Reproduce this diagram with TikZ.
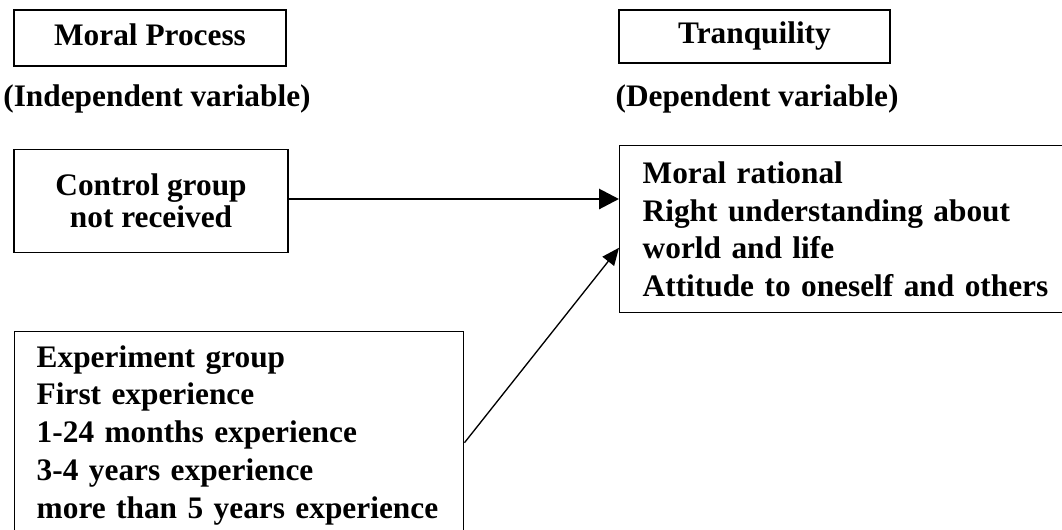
\documentclass[tikz,border=0pt]{standalone}
\usepackage{fontspec}
\setmainfont{Liberation Serif}
\usetikzlibrary{arrows.meta,positioning}

\begin{document}
\begin{tikzpicture}[x=0.75pt, y=-0.75pt, font=\bfseries\fontsize{23.5}{28.3}\selectfont,
  box node/.style={draw, line width=1.1pt, inner sep=0pt},
  head node/.style={box node, text height=16pt, text depth=5pt},
  list node/.style={draw, line width=1.1pt, align=left, inner ysep=0pt},
  thick arrow/.style={-{Triangle[length=15pt,width=15pt]}, line width=2.2pt},
  thin arrow/.style={-{Triangle[length=13pt,width=11pt]}, line width=1pt}]
\useasboundingbox (0,0) rectangle (1062,529);
% headers
\node[head node, minimum width=204pt, minimum height=42pt] (mp) at (150,38) {Moral Process};
\node (iv) at (157,99) {(Independent variable)};
\node[head node, minimum width=203.25pt, minimum height=39.75pt] (tq) at (754.5,36.5) {Tranquility};
\node (dv) at (757,99) {(Dependent variable)};
% groups
\node[box node, align=center, minimum width=205.5pt, minimum height=77.25pt,
  font=\bfseries\fontsize{23.5}{24}\selectfont] (cg) at (151,201) {Control group\\not received};
\node[list node, anchor=north west, inner xsep=16.5pt, text width=303.75pt, minimum height=155.25pt] (eg) at (14,331)
  {Experiment group\\First experience\\1-24 months experience\\3-4 years experience\\more than 5 years experience};
\node[list node, anchor=north west, inner xsep=17.25pt, text width=400pt, minimum height=125.25pt] (mr) at (619,145)
  {Moral rational\\Right understanding about\\world and life\\Attitude to oneself and others};
% arrows
\coordinate (cgout) at ([yshift=1.5pt]cg.east);
\draw[thick arrow] (cgout) -- (cgout -| mr.west);
\draw[thin arrow] ([yshift=-5.6pt]eg.east) -- ([yshift=-13.9pt]mr.west);
\end{tikzpicture}
\end{document}
